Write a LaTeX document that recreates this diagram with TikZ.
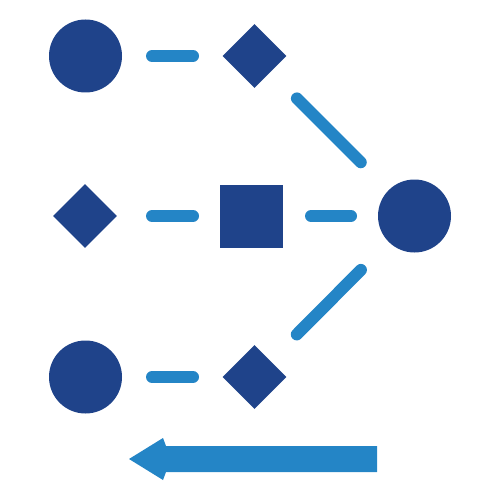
\documentclass[tikz,border=0pt]{standalone}
\usetikzlibrary{shapes.geometric}
\definecolor{darkb}{HTML}{1F438A}
\definecolor{lightb}{HTML}{2485C6}
\begin{document}
\begin{tikzpicture}[x=1pt,y=-1pt,
  circ/.style={circle,fill=darkb,inner sep=0pt,minimum size=73pt},
  dia/.style={diamond,fill=darkb,inner sep=0pt,minimum width=64pt,minimum height=64pt},
  sqr/.style={rectangle,fill=darkb,inner sep=0pt,minimum size=63pt},
  conn/.style={draw=lightb,line width=12pt,line cap=round}]
\useasboundingbox (0,0) rectangle (500,500);
\node[circ] (c1) at (85.5,56) {};
\node[dia] (d1) at (254.5,56) {};
\node[dia] (d2) at (85,216) {};
\node[sqr] (sq) at (251.5,216) {};
\node[circ] (c2) at (414.5,216) {};
\node[circ] (c3) at (85.5,377) {};
\node[dia] (d3) at (254.5,377) {};
\draw[conn,shorten <=66.5pt,shorten >=61.5pt] (c1.center) -- (d1.center);
\draw[conn,shorten <=67pt,shorten >=58.5pt] (d2.center) -- (sq.center);
\draw[conn,shorten <=59.5pt,shorten >=63.5pt] (sq.center) -- (c2.center);
\draw[conn,shorten <=66.5pt,shorten >=61.5pt] (c3.center) -- (d3.center);
\draw[conn,shorten <=60pt,shorten >=76pt] (d1.center) -- (c2.center);
\draw[conn,shorten <=60pt,shorten >=76pt] (d3.center) -- (c2.center);
\fill[lightb] (129,459) -- (163,438) -- (166,446) -- (377,446) -- (377,472) -- (166,472) -- (163,480) -- cycle;
\end{tikzpicture}
\end{document}
